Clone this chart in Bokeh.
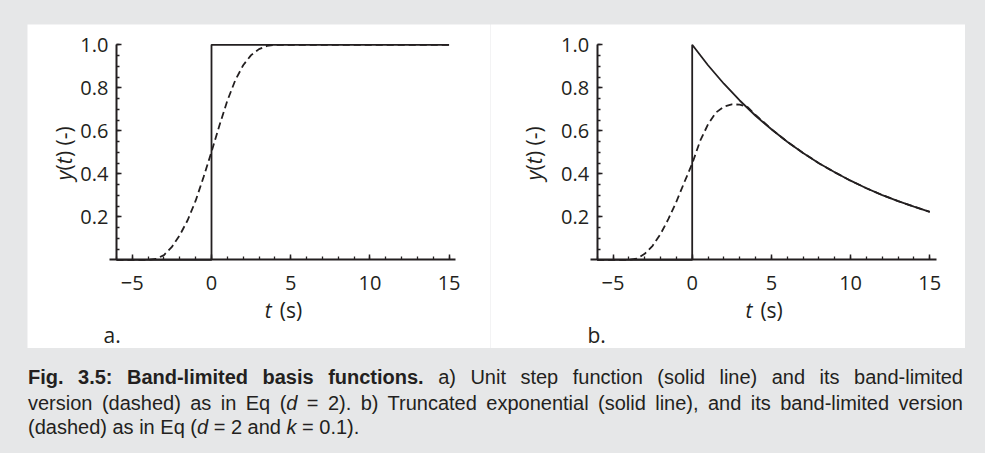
from bokeh.plotting import figure
from bokeh.models import Range1d, FixedTicker, Label, Div
from bokeh.layouts import row, column
from bokeh.embed import file_html
from bokeh.resources import INLINE

# ---------------- data ----------------
# a) unit step and its band-limited version
step_t = [-6, 0, 0, 15]
step_y = [0, 0, 1, 1]
bl_step_t = [-6, -4, -3.5, -3, -2.5, -2, -1.5, -1, -0.5, 0, 0.5, 1, 1.5, 2, 2.5, 3, 3.5, 4, 15]
bl_step_y = [0, 0, 0.004, 0.022, 0.06, 0.115, 0.185, 0.275, 0.385, 0.502, 0.625, 0.74, 0.835, 0.905, 0.952, 0.98, 0.995, 1.0, 1.0]

# b) truncated exponential and its band-limited version
exp_t = [-6, 0, 0, 1, 2, 3, 4, 5, 6, 7, 8, 9, 10, 11, 12, 13, 14, 15]
exp_y = [0, 0, 1.0, 0.905, 0.819, 0.741, 0.670, 0.607, 0.549, 0.497, 0.449, 0.407, 0.368, 0.333, 0.301, 0.273, 0.247, 0.223]
bl_exp_t = [-6, -4, -3.5, -3, -2.5, -2, -1.5, -1, -0.5, 0, 0.5, 1, 1.5, 2, 2.5, 3, 3.5, 4, 4.5, 5, 6, 7, 8, 9, 10, 11, 12, 13, 14, 15]
bl_exp_y = [0, 0, 0.005, 0.028, 0.065, 0.12, 0.19, 0.27, 0.36, 0.447, 0.553, 0.63, 0.685, 0.712, 0.723, 0.722, 0.71, 0.674, 0.641, 0.608, 0.549, 0.497, 0.449, 0.407, 0.368, 0.333, 0.301, 0.273, 0.247, 0.223]

x_ticks = [-5, 0, 5, 10, 15]
x_tick_labels = ["\u22125", "0", "5", "10", "15"]
x_minor_ticks = [-6, -5, -4, -3, -2, -1, 0, 1, 2, 3, 4, 5, 6, 7, 8, 9, 10, 11, 12, 13, 14, 15]
y_ticks = [0.2, 0.4, 0.6, 0.8, 1.0]
y_tick_labels = ["0.2", "0.4", "0.6", "0.8", "1.0"]
y_minor_ticks = [0.05, 0.1, 0.15, 0.2, 0.25, 0.3, 0.35, 0.4, 0.45, 0.5,
                 0.55, 0.6, 0.65, 0.7, 0.75, 0.8, 0.85, 0.9, 0.95, 1.0]

panel_letters = ["a.", "b."]
x_axis_bounds = (-6.45, 15.4)
y_axis_bounds = (0, 1.0)
y_axis_at = -6

INK = "#231f20"
BG = "#e6e7e8"
FONT = "Open Sans"

# layout: pixel scale of the plots
PX_T = 15.84    # px per second
PX_Y = 215.0    # px per unit of y
FIG_H = 324


def make_panel(letter, width, zero_x, zero_y, ylab_x, letter_x, solid_t, solid_y, dash_t, dash_y):
    # zero_x / zero_y: pixel position (inside the figure) of the data origin
    x_rng = Range1d(-zero_x / PX_T, (width - zero_x) / PX_T)
    y_rng = Range1d(-(FIG_H - zero_y) / PX_Y, zero_y / PX_Y)
    p = figure(width=width, height=FIG_H, x_range=x_rng, y_range=y_rng,
               output_backend="svg", toolbar_location=None, title=None,
               min_border_left=0, min_border_right=0,
               min_border_top=0, min_border_bottom=0)
    p.background_fill_color = "white"
    p.border_fill_color = "white"
    p.outline_line_color = None
    p.grid.visible = False

    p.line(solid_t, solid_y, line_color=INK, line_width=1.8)
    p.line(dash_t, dash_y, line_color=INK, line_width=1.8, line_dash="7 4")

    xa = p.xaxis[0]
    xa.fixed_location = 0
    xa.bounds = x_axis_bounds
    xa.ticker = FixedTicker(ticks=x_ticks, minor_ticks=x_minor_ticks)
    xa.major_label_overrides = dict(zip(x_ticks, x_tick_labels))
    ya = p.yaxis[0]
    ya.fixed_location = y_axis_at
    ya.bounds = y_axis_bounds
    ya.ticker = FixedTicker(ticks=y_ticks, minor_ticks=y_minor_ticks)
    ya.major_label_overrides = dict(zip(y_ticks, y_tick_labels))
    for ax in (xa, ya):
        ax.axis_line_color = INK
        ax.axis_line_width = 2
        ax.major_tick_line_color = INK
        ax.minor_tick_line_color = INK
        ax.major_tick_line_width = 1.5
        ax.minor_tick_line_width = 1.3
        ax.major_tick_in = 5
        ax.major_tick_out = 0
        ax.minor_tick_in = 3
        ax.minor_tick_out = 0
        ax.major_label_text_font = FONT
        ax.major_label_text_font_size = "20px"
        ax.major_label_text_color = INK
    xa.major_label_standoff = 16
    ya.major_label_standoff = 8

    # axis titles with mixed italic / upright parts
    common = dict(text_font=FONT, text_font_size="21px", text_color=INK)
    p.add_layout(Label(x=3.8, y=-0.232, text="t", text_align="right", text_baseline="alphabetic",
                       text_font_style="italic", **common))
    p.add_layout(Label(x=3.8, y=-0.232, x_offset=8, text="(s)", text_align="left",
                       text_baseline="alphabetic", **common))

    ang = 1.5707963
    p.add_layout(Label(x=ylab_x, y=0.415, text="y", angle=ang, text_align="right",
                       text_baseline="middle", text_font_style="italic", **common))
    p.add_layout(Label(x=ylab_x, y=0.415, text="(", angle=ang, text_align="left",
                       text_baseline="middle", **common))
    p.add_layout(Label(x=ylab_x, y=0.444, text="t", angle=ang, text_align="left",
                       text_baseline="middle", text_font_style="italic", **common))
    p.add_layout(Label(x=ylab_x, y=0.478, text=") (-)", angle=ang, text_align="left",
                       text_baseline="middle", **common))

    p.add_layout(Label(x=letter_x, y=-0.348, text=letter, text_align="left",
                       text_baseline="alphabetic", **common))
    return p


p1 = make_panel(panel_letters[0], 463, 184.0, 235.3, -9.34, -6.82, step_t, step_y, bl_step_t, bl_step_y)
p2 = make_panel(panel_letters[1], 475, 201.7, 235.3, -10.0, -6.61, exp_t, exp_y, bl_exp_t, bl_exp_y)

caption_html = (
    '<div style="font-family:\'Liberation Sans\';font-size:20px;line-height:23.4px;color:#231f20;width:935px;">'
    '<div style="text-align:justify;text-align-last:justify;position:relative;top:-3px;">'
    '<b>Fig. 3.5: Band-limited basis functions.</b> '
    'a) Unit step function (solid line) and its band-limited</div>'
    '<div style="text-align:justify;text-align-last:justify;">version (dashed) as in Eq (<i>d</i> = 2). '
    'b) Truncated exponential (solid line), and its band-limited version</div>'
    '<div style="text-align:left;">(dashed) as in Eq (<i>d</i> = 2 and <i>k</i> = 0.1).</div>'
    '</div>'
)
caption = Div(text=caption_html, width=935, height=75, margin=(21, 0, 0, 28))

plots = row(p1, p2, margin=(24, 0, 0, 27), spacing=0)
root = column(plots, caption, width=985, height=453, spacing=0,
              styles={"background-color": BG})

open("out.html", "w").write(file_html(root, INLINE))
